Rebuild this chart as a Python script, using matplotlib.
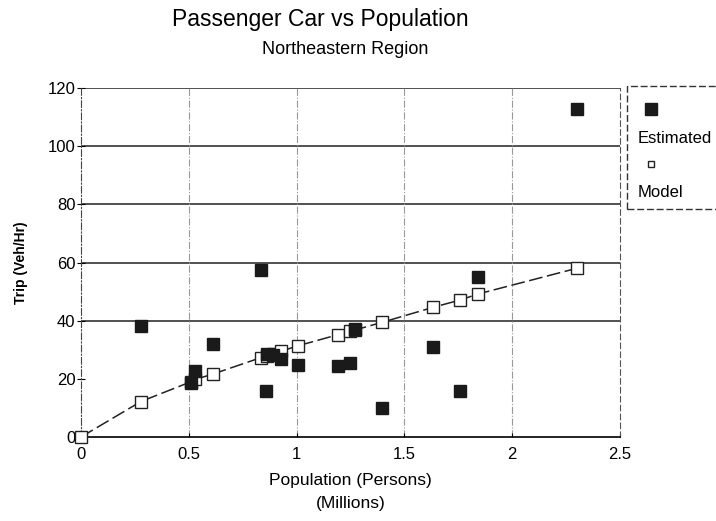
import numpy as np
import matplotlib
matplotlib.use("Agg")
import matplotlib.pyplot as plt
from matplotlib.patches import Rectangle

plt.rcParams['font.family'] = ['Liberation Sans', 'DejaVu Sans']

# data
est_pop = [0.278, 0.51, 0.53, 0.614, 0.835, 0.858, 0.861, 0.892, 0.928, 1.008,
           1.193, 1.248, 1.271, 1.395, 1.634, 1.758, 1.843, 2.299]
est_trip = [38.3, 18.5, 22.7, 32.0, 57.4, 15.8, 28.5, 28.2, 26.9, 24.7,
            24.4, 25.3, 37.0, 9.9, 31.0, 15.9, 54.9, 112.7]

model_pop = [0.0, 0.278, 0.51, 0.53, 0.614, 0.835, 0.861, 0.892, 0.928, 1.008,
             1.193, 1.248, 1.271, 1.395, 1.634, 1.758, 1.843, 2.299]
model_trip = [0.0, 12.2, 19.0, 19.8, 21.7, 27.3, 27.9, 28.5, 29.5, 31.4,
              35.2, 36.4, 36.8, 39.4, 44.6, 47.1, 49.2, 58.0]

xticks = [0, 0.5, 1, 1.5, 2, 2.5]
xtick_labels = ['0', '0.5', '1', '1.5', '2', '2.5']
yticks = [0, 20, 40, 60, 80, 100, 120]

fig = plt.figure(figsize=(7.16, 5.21), dpi=100)
ax = fig.add_axes([0.1131, 0.1612, 0.7528, 0.6699])

ax.set_xlim(0, 2.5)
ax.set_ylim(0, 120)
ax.set_xticks(xticks)
ax.set_xticklabels(xtick_labels)
ax.set_yticks(yticks)

# grid: solid horizontals, faint dash-dot verticals
for y in yticks[2:]:
    ax.axhline(y, color='#333333', lw=1.2, zorder=1)
for x in xticks[1:-1]:
    ax.axvline(x, color='#999999', lw=0.8, ls='-.', zorder=1)

ax.spines['top'].set_visible(False)
ax.spines['left'].set_linestyle((0, (6, 2, 1, 2)))
ax.spines['left'].set_color('#444444')
ax.spines['right'].set_linestyle((0, (5, 3)))
ax.spines['right'].set_color('#555555')
ax.spines['bottom'].set_linewidth(1.2)

ax.tick_params(axis='x', labelsize=12, length=3, direction='in', pad=7)
ax.tick_params(axis='y', labelsize=12, length=6, direction='inout', pad=1)

ax.plot(model_pop, model_trip, color='#222222', lw=1.1, ls=(0, (9, 3)),
        marker='s', markersize=8, markerfacecolor='white',
        markeredgecolor='#222222', markeredgewidth=1.0, zorder=3, clip_on=False)
ax.plot(est_pop, est_trip, ls='none', marker='s', markersize=8,
        markerfacecolor='#1a1a1a', markeredgecolor='#1a1a1a', zorder=4)

ax.set_xlabel('Population (Persons)\n(Millions)', fontsize=12.5, labelpad=8,
              linespacing=1.7)
ax.set_ylabel('Trip (Veh/Hr)', fontsize=10, fontweight='bold', labelpad=14)

fig.text(0.447, 0.962, 'Passenger Car vs Population', ha='center', va='center',
         fontsize=16.5)
fig.text(0.482, 0.905, 'Northeastern Region', ha='center', va='center',
         fontsize=13)

# legend box on the right, running off the edge
fig.patches.append(Rectangle((0.876, 0.598), 0.2, 0.236, transform=fig.transFigure,
                             facecolor='white', edgecolor='#333333', lw=1.0,
                             ls=(0, (5, 2))))
fig.lines.append(plt.Line2D([0.9095], [0.79], transform=fig.transFigure, marker='s',
                            markersize=8, color='#1a1a1a', ls='none'))
fig.text(0.89, 0.735, 'Estimated', fontsize=12, va='center')
fig.lines.append(plt.Line2D([0.9095], [0.686], transform=fig.transFigure, marker='s',
                            markersize=5, markerfacecolor='white',
                            markeredgecolor='#222222', ls='none'))
fig.text(0.89, 0.63, 'Model', fontsize=12, va='center')

fig.savefig('out.png', dpi=100)
